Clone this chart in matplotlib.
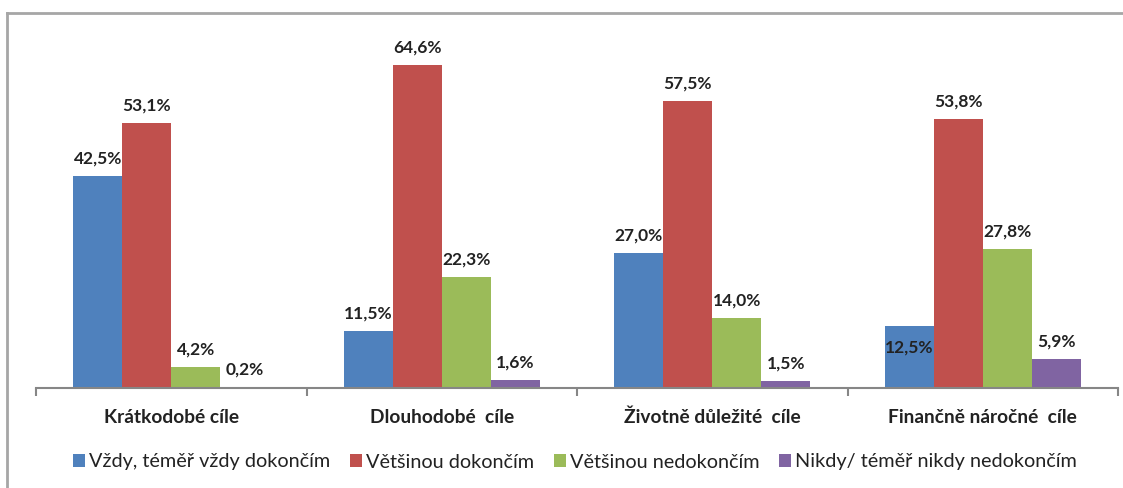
import matplotlib
matplotlib.use("Agg")
import matplotlib.pyplot as plt
from matplotlib.lines import Line2D
import numpy as np

categories = ["Krátkodobé cíle", "Dlouhodobé  cíle", "Životně důležité  cíle", "Finančně náročné  cíle"]
series_names = ["Vždy, téměř vždy dokončím", "Většinou dokončím", "Většinou nedokončím", "Nikdy/ téměř nikdy nedokončím"]
vzdy = [42.5, 11.5, 27.0, 12.5]
vetsinou = [53.1, 64.6, 57.5, 53.8]
nedokoncim = [4.2, 22.3, 14.0, 27.8]
nikdy = [0.2, 1.6, 1.5, 5.9]
colors = ["#4F81BD", "#C0504D", "#9BBB59", "#8064A2"]

plt.rcParams['font.family'] = ['Lato', 'DejaVu Sans']

fig = plt.figure(figsize=(11.23, 4.88), dpi=100)
ax = fig.add_axes([36/1123, 100/488, (1118-36)/1123, 350/488])

x = np.arange(len(categories))
w = 0.181
all_series = [vzdy, vetsinou, nedokoncim, nikdy]
for i, (vals, c, name) in enumerate(zip(all_series, colors, series_names)):
    bars = ax.bar(x + (i - 1.5) * w, vals, width=w, color=c, label=name, zorder=2)
    for j, (b, v) in enumerate(zip(bars, vals)):
        txt = f"{v:.1f}%".replace(".", ",")
        if i == 0 and j == 3:
            ax.annotate(txt, (b.get_x() + b.get_width() / 2, v), xytext=(0, -16),
                        textcoords="offset points", ha="center", va="center",
                        fontsize=12.5, fontweight="bold", color="#222222", zorder=3)
        else:
            ax.annotate(txt, (b.get_x() + b.get_width() / 2, v), xytext=(0, 12.5),
                        textcoords="offset points", ha="center", va="center",
                        fontsize=12.5, fontweight="bold", color="#222222", zorder=3)

ax.set_xlim(-0.5, len(categories) - 0.5)
ax.set_ylim(0, 70)
ax.set_yticks([])
for s in ["top", "right", "left"]:
    ax.spines[s].set_visible(False)
ax.spines["bottom"].set_color("#868686")
ax.spines["bottom"].set_linewidth(1.5)

ax.set_xticks(x)
ax.set_xticklabels(categories, fontsize=13.8, fontweight="bold", color="#222222")
ax.tick_params(axis="x", which="major", length=0, pad=15)
ax.set_xticks(np.arange(-0.5, len(categories), 1.0), minor=True)
ax.tick_params(axis="x", which="minor", length=6, width=1.5, color="#868686")

leg = fig.legend(loc="center", bbox_to_anchor=(575/1123, 1 - 462/488), ncol=4, frameon=False,
                 fontsize=14.3, handlelength=0.6, handleheight=0.6, handletextpad=0.2,
                 columnspacing=1.0)
for t in leg.get_texts():
    t.set_color("#222222")

# outer border (left and top only, as in the reference)
fig.add_artist(Line2D([7/1123, 7/1123], [0, 1 - 13/488], transform=fig.transFigure,
                      color="#a6a6a6", linewidth=2))
fig.add_artist(Line2D([7/1123, 1], [1 - 13/488, 1 - 13/488], transform=fig.transFigure,
                      color="#a6a6a6", linewidth=2))

fig.savefig("out.png", dpi=100)
